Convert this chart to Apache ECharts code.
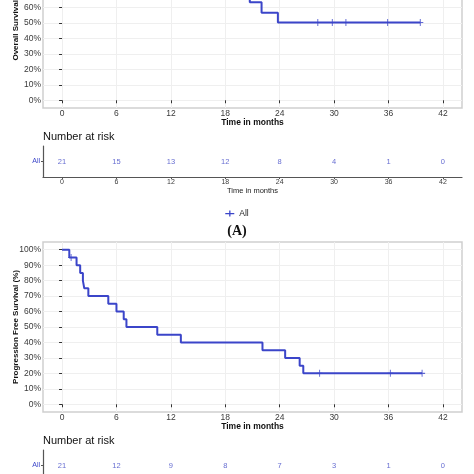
<!DOCTYPE html>
<html>
<head>
<meta charset="utf-8">
<script src="https://cdn.jsdelivr.net/npm/echarts@6/dist/echarts.min.js"></script>
<style>html,body{margin:0;padding:0;background:#fff}#c{width:474px;height:474px}</style>
</head>
<body>
<div id="c"></div>
<script>
// ---- data ----
const tickMonths = [0, 6, 12, 18, 24, 30, 36, 42];
const yTicks = [0, 10, 20, 30, 40, 50, 60, 70, 80, 90, 100];
const riskGroups = ['All'];
const osAtRisk = [21, 15, 13, 12, 8, 4, 1, 0];
const pfsAtRisk = [21, 12, 9, 8, 7, 3, 1, 0];
// Overall survival (part above the visible area estimated)
const osTime = [0, 1.5, 3.2, 4.5, 5.6, 9.0, 20.7, 22.0, 23.8, 39.5];
const osSurv = [100, 95.2, 90.5, 85.7, 76.2, 71.4, 63.5, 56.6, 50.3, 50.3];
const osCensorTime = [28.2, 29.8, 31.3, 35.9, 39.5];
const osCensorSurv = [50.3, 50.3, 50.3, 50.3, 50.3];
// Progression free survival
const pfsTime = [0, 0.8, 1.6, 2.0, 2.3, 2.45, 2.9, 5.1, 6.0, 6.8, 7.1, 10.5, 13.1, 22.1, 24.6, 26.2, 26.6, 39.7];
const pfsSurv = [100, 95, 90, 85, 80, 75, 70, 65, 60, 55, 50, 45, 40, 35, 30, 25, 20, 20];
const pfsCensorTime = [1.0, 28.4, 36.2, 39.7];
const pfsCensorSurv = [95, 20, 20, 20];

// ---- styles ----
const BLUE = '#3b45c9';
const TXT = '#3a3a3a';
const FONT = 'Liberation Sans, Arial, sans-serif';
const X0 = -2.1, X1 = 44.1;
const plus = 'path://M0.42,0h0.16v0.42h0.42v0.16h-0.42v0.42h-0.16v-0.42h-0.42v-0.16h0.42z';

const zip = (a, b) => a.map((v, i) => [v, b[i]]);

function plotX(gi) {
  return {
    type: 'value', gridIndex: gi, min: X0, max: X1,
    axisLine: { show: false },
    axisTick: { show: true, length: 3, customValues: tickMonths, lineStyle: { color: '#333' } },
    axisLabel: { customValues: tickMonths, color: TXT, fontSize: 8.5, fontFamily: FONT, margin: 1 },
    splitLine: { show: true, lineStyle: { color: '#efefef', width: 1 } },
    name: 'Time in months', nameLocation: 'middle', nameGap: 10.5, nameMoveOverlap: false,
    nameTextStyle: { color: '#111', fontSize: 8.5, fontWeight: 'bold', fontFamily: FONT }
  };
}
function plotY(gi, name) {
  return {
    type: 'value', gridIndex: gi, min: -5, max: 105,
    axisLine: { show: false },
    axisTick: { show: true, length: 3, customValues: yTicks, lineStyle: { color: '#333' } },
    axisLabel: { customValues: yTicks, color: TXT, fontSize: 8.5, fontFamily: FONT, margin: 2, formatter: v => v + '%' },
    splitLine: { show: true, lineStyle: { color: '#efefef', width: 1 } },
    name: name, nameLocation: 'middle', nameGap: 23, nameRotate: 90, nameMoveOverlap: false,
    nameTextStyle: { color: '#111', fontSize: 8, fontWeight: 'bold', fontFamily: FONT }
  };
}
function riskX(gi) {
  return {
    type: 'value', gridIndex: gi, min: X0, max: X1,
    axisLine: { show: true, onZero: false, lineStyle: { color: '#555', width: 1.2 } },
    axisTick: { show: true, length: 2, customValues: tickMonths, lineStyle: { color: '#555' } },
    axisLabel: { customValues: tickMonths, color: TXT, fontSize: 7, fontFamily: FONT, margin: 1.5 },
    splitLine: { show: false },
    name: 'Time in months', nameLocation: 'middle', nameGap: 9.5, nameMoveOverlap: false,
    nameTextStyle: { color: '#222', fontSize: 7.5, fontFamily: FONT }
  };
}
function riskY(gi) {
  return {
    type: 'category', gridIndex: gi, data: riskGroups,
    axisLine: { show: true, onZero: false, lineStyle: { color: '#555', width: 1.2 } },
    axisTick: { show: true, length: 2, alignWithLabel: true, lineStyle: { color: '#555' } },
    axisLabel: { color: BLUE, fontSize: 7, fontFamily: FONT, margin: 3 },
    splitLine: { show: false }
  };
}
function riskSeries(gi, counts) {
  return {
    type: 'scatter', xAxisIndex: gi, yAxisIndex: gi, symbolSize: 0, silent: true,
    data: tickMonths.map((m, i) => [m, riskGroups[0], counts[i]]),
    label: { show: true, position: 'inside', formatter: p => String(p.value[2]), color: '#3f47c6', fontSize: 7.5, fontFamily: FONT }
  };
}

const gridBase = { left: 43, width: 419, containLabel: false, outerBoundsMode: 'none' };
const chart = echarts.init(document.getElementById('c'), null, { renderer: 'canvas' });
chart.setOption({
  animation: false,
  backgroundColor: '#fff',
  title: [
    { text: 'Number at risk', left: 43, top: 131, padding: 0, textStyle: { fontSize: 11, fontWeight: 'normal', color: '#111', fontFamily: FONT } },
    { text: '(A)', left: 'center', top: 224, padding: 0, textStyle: { fontSize: 14, fontWeight: 'bold', color: '#111', fontFamily: 'Liberation Serif, DejaVu Serif, serif' } },
    { text: 'Number at risk', left: 43, top: 435, padding: 0, textStyle: { fontSize: 11, fontWeight: 'normal', color: '#111', fontFamily: FONT } }
  ],
  legend: {
    data: ['All'], left: 'center', top: 209, itemWidth: 9, itemHeight: 7, itemGap: 4, padding: 0,
    icon: 'path://M0,3.0h9v1.2h-9z M3.9,0.4h1.3v6.2h-1.3z',
    textStyle: { fontSize: 8.5, color: '#222', fontFamily: FONT }
  },
  grid: [
    Object.assign({}, gridBase, { top: -62, height: 170, show: true, borderColor: '#cfcfcf', borderWidth: 1.5, backgroundColor: '#fff' }),
    Object.assign({}, gridBase, { top: 146, height: 31 }),
    Object.assign({}, gridBase, { top: 242, height: 170, show: true, borderColor: '#cfcfcf', borderWidth: 1.5, backgroundColor: '#fff' }),
    Object.assign({}, gridBase, { top: 450, height: 31 })
  ],
  xAxis: [plotX(0), riskX(1), plotX(2), riskX(3)],
  yAxis: [plotY(0, 'Overall Survival (%)'), riskY(1), plotY(2, 'Progression Free Survival (%)'), riskY(3)],
  series: [
    { name: 'All', type: 'line', step: 'end', xAxisIndex: 0, yAxisIndex: 0, data: zip(osTime, osSurv), showSymbol: false, symbol: 'none', lineStyle: { color: BLUE, width: 2 }, itemStyle: { color: BLUE } },
    { type: 'scatter', xAxisIndex: 0, yAxisIndex: 0, data: zip(osCensorTime, osCensorSurv), symbol: plus, symbolSize: [6, 7], itemStyle: { color: BLUE } },
    riskSeries(1, osAtRisk),
    { name: 'All', type: 'line', step: 'end', xAxisIndex: 2, yAxisIndex: 2, data: zip(pfsTime, pfsSurv), showSymbol: false, symbol: 'none', lineStyle: { color: BLUE, width: 2 }, itemStyle: { color: BLUE } },
    { type: 'scatter', xAxisIndex: 2, yAxisIndex: 2, data: zip(pfsCensorTime, pfsCensorSurv), symbol: plus, symbolSize: [6, 7], itemStyle: { color: BLUE } },
    riskSeries(3, pfsAtRisk)
  ]
});
</script>
</body>
</html>
